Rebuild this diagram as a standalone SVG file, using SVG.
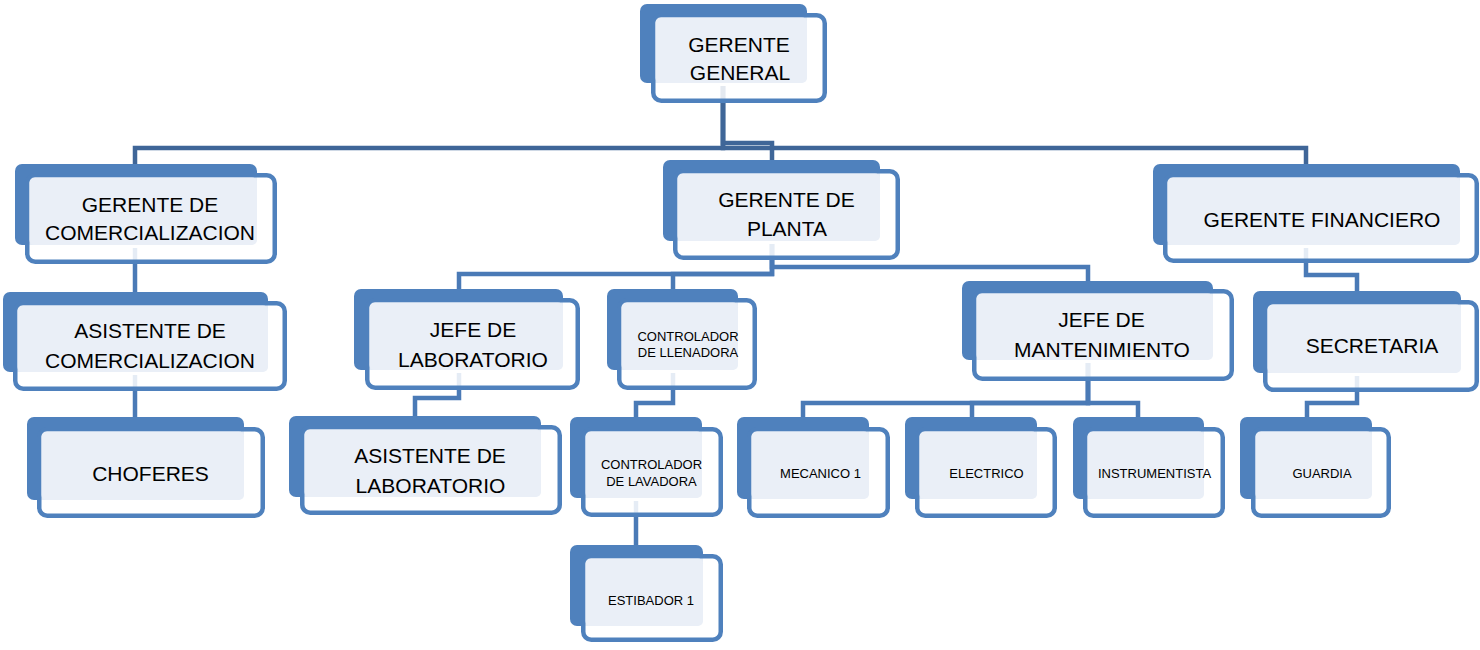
<svg xmlns="http://www.w3.org/2000/svg" width="1480" height="650" viewBox="0 0 1480 650">
  <style>
    .back { fill: #4F81BD; }
    .frame { fill: #FFFFFF; fill-opacity: 0.86; stroke: #4F81BD; stroke-width: 4.5; }
    .face { fill: #EAEFF7; }
    .lg { font-family: "Liberation Sans", Arial, sans-serif; font-size: 21px; fill: #000; text-anchor: middle; }
    .sm { font-family: "Liberation Sans", Arial, sans-serif; font-size: 13px; fill: #000; text-anchor: middle; }
    .wire { fill: none; stroke-width: 4.5; stroke-linejoin: miter; stroke-linecap: butt; }
    .top { stroke: #3F6698; }
    .sub { stroke: #4A7AB6; }
  </style>
  <rect width="1480" height="650" fill="#FFFFFF"/>

  <!-- connectors (drawn first so the node frames sit on top) -->
  <g id="connectors">
    <path class="wire top" d="M723,86 V148 H135 V164"/>
    <path class="wire top" d="M723,86 V148 H1306 V164"/>
    <path class="wire top" d="M723,86 V143 H772 V160"/>
    <path class="wire sub" d="M135,248 V292"/>
    <path class="wire sub" d="M135,375 V417"/>
    <path class="wire sub" d="M772,244 V274 H459 V289"/>
    <path class="wire sub" d="M772,244 V274 H673 V289"/>
    <path class="wire sub" d="M772,244 V267 H1088 V281"/>
    <path class="wire sub" d="M459,373 V398 H415 V416"/>
    <path class="wire sub" d="M673,373 V403 H636 V417"/>
    <path class="wire sub" d="M636,501 V545"/>
    <path class="wire sub" d="M1088,363 V403 H803 V417"/>
    <path class="wire sub" d="M1088,363 V403 H972 V417"/>
    <path class="wire sub" d="M1088,363 V403 H1138 V417"/>
    <path class="wire sub" d="M1306,248 V275 H1357 V291"/>
    <path class="wire sub" d="M1357,376 V403 H1307 V417"/>
  </g>

  <!-- nodes: back tab, outlined frame, text face -->
  <g id="gerente-general">
    <rect class="back" x="640" y="4" width="167" height="79" rx="7"/>
    <rect class="frame" x="653.25" y="15.25" width="171.5" height="85.5" rx="8"/>
    <rect class="face" x="655.5" y="17.5" width="151.5" height="65.5" rx="5"/>
    <text class="lg" x="739" y="52">GERENTE</text>
    <text class="lg" x="740" y="80">GENERAL</text>
  </g>

  <g id="gerente-comercializacion">
    <rect class="back" x="15" y="164" width="242" height="81" rx="7"/>
    <rect class="frame" x="27.25" y="175.25" width="247.5" height="86.5" rx="8"/>
    <rect class="face" x="29.5" y="177.5" width="227.5" height="67.5" rx="5"/>
    <text class="lg" x="150" y="212">GERENTE DE</text>
    <text class="lg" x="150" y="240">COMERCIALIZACION</text>
  </g>

  <g id="asistente-comercializacion">
    <rect class="back" x="3" y="292" width="265" height="80" rx="7"/>
    <rect class="frame" x="15.25" y="303.25" width="269.5" height="85.5" rx="8"/>
    <rect class="face" x="17.5" y="305.5" width="250.5" height="66.5" rx="5"/>
    <text class="lg" x="150" y="338">ASISTENTE DE</text>
    <text class="lg" x="150" y="368">COMERCIALIZACION</text>
  </g>

  <g id="choferes">
    <rect class="back" x="27" y="417" width="217" height="83" rx="7"/>
    <rect class="frame" x="39.25" y="429.25" width="223.5" height="86.5" rx="8"/>
    <rect class="face" x="41.5" y="431.5" width="202.5" height="68.5" rx="5"/>
    <text class="lg" x="150.5" y="481">CHOFERES</text>
  </g>

  <g id="gerente-planta">
    <rect class="back" x="663" y="160" width="217" height="81" rx="7"/>
    <rect class="frame" x="675.25" y="171.25" width="222.5" height="86.5" rx="8"/>
    <rect class="face" x="677.5" y="173.5" width="202.5" height="67.5" rx="5"/>
    <text class="lg" x="786.5" y="207">GERENTE DE</text>
    <text class="lg" x="787" y="236">PLANTA</text>
  </g>

  <g id="jefe-laboratorio">
    <rect class="back" x="354" y="289" width="209" height="81" rx="7"/>
    <rect class="frame" x="367.25" y="300.25" width="210.5" height="87.5" rx="8"/>
    <rect class="face" x="369.5" y="302.5" width="193.5" height="67.5" rx="5"/>
    <text class="lg" x="473" y="337">JEFE DE</text>
    <text class="lg" x="473" y="367">LABORATORIO</text>
  </g>

  <g id="asistente-laboratorio">
    <rect class="back" x="289" y="416" width="252" height="81" rx="7"/>
    <rect class="frame" x="302.25" y="427.25" width="257.5" height="85.5" rx="8"/>
    <rect class="face" x="304.5" y="429.5" width="236.5" height="67.5" rx="5"/>
    <text class="lg" x="430" y="463">ASISTENTE DE</text>
    <text class="lg" x="430.5" y="493">LABORATORIO</text>
  </g>

  <g id="controlador-llenadora">
    <rect class="back" x="607" y="289" width="131" height="81" rx="7"/>
    <rect class="frame" x="619.25" y="300.25" width="135.5" height="87.5" rx="8"/>
    <rect class="face" x="621.5" y="302.5" width="116.5" height="67.5" rx="5"/>
    <text class="sm" x="688" y="341">CONTROLADOR</text>
    <text class="sm" x="688" y="357">DE LLENADORA</text>
  </g>

  <g id="controlador-lavadora">
    <rect class="back" x="570" y="417" width="132" height="81" rx="7"/>
    <rect class="frame" x="583.25" y="429.25" width="137.5" height="85.5" rx="8"/>
    <rect class="face" x="585.5" y="431.5" width="116.5" height="66.5" rx="5"/>
    <text class="sm" x="651.5" y="469">CONTROLADOR</text>
    <text class="sm" x="651.5" y="486">DE LAVADORA</text>
  </g>

  <g id="estibador-1">
    <rect class="back" x="570" y="545" width="133" height="81" rx="7"/>
    <rect class="frame" x="583.25" y="556.25" width="137.5" height="83.5" rx="8"/>
    <rect class="face" x="585.5" y="558.5" width="117.5" height="67.5" rx="5"/>
    <text class="sm" x="651" y="605">ESTIBADOR 1</text>
  </g>

  <g id="jefe-mantenimiento">
    <rect class="back" x="962" y="281" width="251" height="79" rx="7"/>
    <rect class="frame" x="974.25" y="291.25" width="257.5" height="87.5" rx="8"/>
    <rect class="face" x="976.5" y="293.5" width="236.5" height="66.5" rx="5"/>
    <text class="lg" x="1101.5" y="327">JEFE DE</text>
    <text class="lg" x="1102" y="357">MANTENIMIENTO</text>
  </g>

  <g id="mecanico-1">
    <rect class="back" x="737" y="417" width="132" height="82" rx="7"/>
    <rect class="frame" x="749.25" y="429.25" width="138.5" height="86.5" rx="8"/>
    <rect class="face" x="751.5" y="431.5" width="117.5" height="67.5" rx="5"/>
    <text class="sm" x="820.5" y="478">MECANICO 1</text>
  </g>

  <g id="electrico">
    <rect class="back" x="905" y="417" width="132" height="82" rx="7"/>
    <rect class="frame" x="917.25" y="429.25" width="137.5" height="86.5" rx="8"/>
    <rect class="face" x="919.5" y="431.5" width="117.5" height="67.5" rx="5"/>
    <text class="sm" x="986.5" y="478">ELECTRICO</text>
  </g>

  <g id="instrumentista">
    <rect class="back" x="1073" y="417" width="131" height="82" rx="7"/>
    <rect class="frame" x="1085.25" y="429.25" width="137.5" height="86.5" rx="8"/>
    <rect class="face" x="1087.5" y="431.5" width="116.5" height="67.5" rx="5"/>
    <text class="sm" x="1154.5" y="478">INSTRUMENTISTA</text>
  </g>

  <g id="gerente-financiero">
    <rect class="back" x="1153" y="164" width="307" height="81" rx="7"/>
    <rect class="frame" x="1165.25" y="175.25" width="311.5" height="85.5" rx="8"/>
    <rect class="face" x="1167.5" y="177.5" width="292.5" height="67.5" rx="5"/>
    <text class="lg" x="1322" y="227">GERENTE FINANCIERO</text>
  </g>

  <g id="secretaria">
    <rect class="back" x="1253" y="291" width="208" height="82" rx="7"/>
    <rect class="frame" x="1265.25" y="302.25" width="211.5" height="87.5" rx="8"/>
    <rect class="face" x="1267.5" y="304.5" width="193.5" height="68.5" rx="5"/>
    <text class="lg" x="1372" y="353">SECRETARIA</text>
  </g>

  <g id="guardia">
    <rect class="back" x="1240" y="417" width="132" height="82" rx="7"/>
    <rect class="frame" x="1253.25" y="429.25" width="135.5" height="86.5" rx="8"/>
    <rect class="face" x="1255.5" y="431.5" width="116.5" height="67.5" rx="5"/>
    <text class="sm" x="1322" y="478">GUARDIA</text>
  </g>
</svg>
